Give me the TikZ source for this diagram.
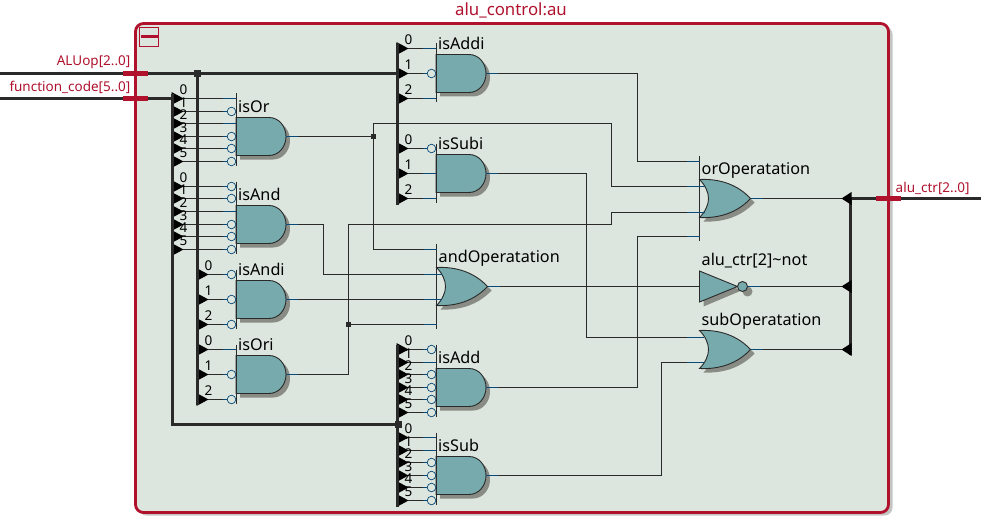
\documentclass[tikz,border=0pt]{standalone}
\usepackage{fontspec}
\setmainfont{Noto Sans}
\usetikzlibrary{calc,positioning}
\definecolor{panel}{HTML}{DDE6DE}
\definecolor{framered}{HTML}{B0122E}
\definecolor{framegray}{HTML}{C4C6C4}
\definecolor{gatefill}{HTML}{76AAAC}
\definecolor{gateshade}{HTML}{888C84}
\definecolor{pinblue}{HTML}{0A4A78}
\definecolor{ink}{HTML}{2A2A2A}
\tikzset{
  wire/.style={ink,line width=1pt},
  bus/.style={ink,line width=3pt},
  stub/.style={pinblue,line width=1pt},
  bubble/.style={pinblue,fill=panel,line width=.7pt},
  pinbar/.style={ink,line width=.9pt},
  gatebody/.style={draw=ink,fill=gatefill,line width=.9pt},
  gateshadow/.style={fill=gateshade,shift={(4,4)}},
  gatename/.style={anchor=west,inner sep=0pt,text=black,font=\fontsize{16.2}{18}\selectfont},
  bitnum/.style={inner sep=0pt,text=black,font=\fontsize{13.5}{15}\selectfont},
  redname/.style={inner sep=0pt,text=framered,font=\fontsize{13.5}{15}\selectfont},
  portbar/.style={framered,line width=5pt},
  tap/.style={fill=ink}
}
\newcommand{\andpath}{(0,-19) -- (33,-19) .. controls (43,-19) and (50,-10) .. (50,0) .. controls (50,10) and (43,19) .. (33,19) -- (0,19) -- cycle}
\newcommand{\orpath}{(0,-19) .. controls (20,-20) and (38,-14) .. (51,0) .. controls (38,14) and (20,20) .. (0,19) .. controls (6,13) and (9,6) .. (9,0) .. controls (9,-6) and (6,-13) .. (0,-19) -- cycle}
% name, x, centre y, text, top of pin bar
\newcommand{\andgate}[5]{\begin{scope}[shift={(#2,#3)}]
\fill[gateshadow] \andpath;
\draw[gatebody] \andpath;
\draw[pinbar] (0,#5) -- (0,29);
\draw[stub] (50,0) -- (62,0);
\coordinate (#1-out) at (62,0);
\node[gatename] (#1-name) at (2,-30) {#4};
\end{scope}}
% name, x, centre y, text
\newcommand{\orgate}[4]{\begin{scope}[shift={(#2,#3)}]
\fill[gateshadow] \orpath;
\draw[gatebody] \orpath;
\draw[stub] (51,0) -- (63,0);
\coordinate (#1-out) at (63,0);
\node[gatename] (#1-name) at (2,-28.5) {#4};
\end{scope}}
% gate, bus x, pin x, list of bit/y/inverted
\newcommand{\pinrow}[4]{\foreach \bit/\yy/\inv in {#4}{
\fill[black] (#2-1,\yy-6.5) -- (#2+11,\yy) -- (#2-1,\yy+6.5) -- cycle;
\coordinate (#1-t\bit) at (#2+10,\yy);
\coordinate (#1-i\bit) at (#3-13,\yy);
\draw[wire] (#1-t\bit) -- (#1-i\bit);
\ifnum\inv=1
\draw[stub] (#1-i\bit) -- ++(5,0);
\draw[bubble] (#3-4.5,\yy) circle (4.3pt);
\else
\draw[stub] (#1-i\bit) -- ++(13,0);
\fi
\node[bitnum] (#1-n\bit) at (#2+11,\yy-8.5) {\bit};
}}
% gate, pin x, list of input/y/length
\newcommand{\orpins}[3]{\foreach \pin/\yy/\len in {#3}{
\coordinate (#1-i\pin) at (#2-13,\yy);
\draw[stub] (#1-i\pin) -- ++(\len,0);
}}
\begin{document}
\begin{tikzpicture}[x=1pt,y=-1pt]
\useasboundingbox (0,0) rectangle (981,524);
\fill[white] (0,0) rectangle (981,524);
\begin{scope}[shift={(.5,.5)}]
% frame
\fill[framegray,rounded corners=8pt] (138,26) rectangle (892,515);
\draw[framered,fill=panel,line width=2.8pt,rounded corners=8pt] (135,23) rectangle (888,512);
\draw[framered,line width=.9pt] (139,27) rectangle (158,46);
\draw[framered,line width=3pt] (140,36) -- (157,36);
\node[redname,font=\fontsize{16.8}{18}\selectfont] (auname) at (510.5,10) {alu\_control:au};
% junction points
\coordinate (ALUin) at (-1,73);
\coordinate (ALUtap) at (197,73);
\coordinate (ALUend) at (397,73);
\coordinate (ALUlow) at (197,404);
\coordinate (FNin) at (-1,98);
\coordinate (FNtop) at (172,94);
\coordinate (FNleft) at (172,98);
\coordinate (FNdown) at (172,424);
\coordinate (FNtap) at (397,424);
\coordinate (orTap) at (373,136);
\coordinate (oriTap) at (348,324);
\coordinate (addiTop) at (397,43);
\coordinate (subiLow) at (397,204);
\coordinate (addTop) at (397,344);
\coordinate (subLow) at (397,506);
\coordinate (ctrTop) at (850,198);
\coordinate (ctrLow) at (850,354);
\coordinate (ctrOut) at (982,198);
% gates
\andgate{isOr}{235.5}{136}{isOr}{-43}
\andgate{isAnd}{235.5}{224}{isAnd}{-43}
\andgate{isAndi}{235.5}{299}{isAndi}{-30}
\andgate{isOri}{235.5}{374}{isOri}{-30}
\andgate{isAddi}{435.5}{73}{isAddi}{-30}
\andgate{isSubi}{435.5}{173}{isSubi}{-30}
\andgate{isAdd}{435.5}{387}{isAdd}{-43}
\andgate{isSub}{435.5}{475}{isSub}{-43}
\orgate{andOp}{436}{286}{andOperatation}
\orgate{orOp}{699}{198}{orOperatation}
\orgate{subOp}{699}{349}{subOperatation}
\draw[pinbar] (435.5,243) -- (435.5,328);
\draw[pinbar] (699,155) -- (699,240);
% inverter
\begin{scope}[shift={(699,286)}]
\fill[gateshade] (4,-12) -- (42,4) -- (4,20) -- cycle;
\fill[gateshade] (48,5) circle (5pt);
\draw[gatebody] (0,-15.5) -- (38,0) -- (0,15.5) -- cycle;
\draw[gatebody] (43,0) circle (5pt);
\draw[stub] (48,0) -- (60,0);
\coordinate (inv-in) at (0,0);
\coordinate (inv-out) at (60,0);
\node[gatename] (inv-name) at (2,-26) {alu\_ctr[2]\textasciitilde not};
\end{scope}
\orpins{orOp}{699}{0/161/13,1/186/18,2/212/18,3/236/13}
\orpins{andOp}{436}{0/249/13,1/274/18,2/299/18,3/324/13}
\orpins{subOp}{699}{0/337/17,1/362/17}
\draw[stub] (686,286) -- (inv-in);
% bit tails
\pinrow{isOr}{172}{235.5}{0/98/0,1/111/1,2/123/0,3/136/1,4/148/1,5/161/1}
\pinrow{isAnd}{172}{235.5}{0/186/1,1/198/1,2/211/0,3/224/1,4/236/1,5/249/1}
\pinrow{isAndi}{197}{235.5}{0/274/1,1/299/1,2/324/1}
\pinrow{isOri}{197}{235.5}{0/349/0,1/374/1,2/399/1}
\pinrow{isAddi}{397}{435.5}{0/48/0,1/73/1,2/98/0}
\pinrow{isSubi}{397}{435.5}{0/148/1,1/173/0,2/198/0}
\pinrow{isAdd}{397}{435.5}{0/349/1,1/362/0,2/374/1,3/387/1,4/399/1,5/412/1}
\pinrow{isSub}{397}{435.5}{0/437/0,1/450/0,2/462/1,3/475/1,4/487/1,5/500/1}
% wires between gates
\draw[wire] (isOr-out) -- (orTap);
\draw[wire] (orTap) |- (andOp-i0);
\draw[wire] (orTap) |- (611,123) |- (orOp-i1);
\draw[wire] (isAnd-out) -| (323,274) -- (andOp-i1);
\draw[wire] (isAndi-out) -- (andOp-i2);
\draw[wire] (oriTap) -- (andOp-i3);
\draw[wire] (isOri-out) -| (348,224) -- (611,224) |- (orOp-i2);
\draw[wire] (isAddi-out) -| (637,161) -- (orOp-i0);
\draw[wire] (isSubi-out) -| (586,337) -- (subOp-i0);
\draw[wire] (isAdd-out) -| (637,236) -- (orOp-i3);
\draw[wire] (isSub-out) -| (661,362) -- (subOp-i1);
\draw[wire] (andOp-out) -- (inv-in);
\draw[wire] (orOp-out) -- (ctrTop);
\draw[wire] (inv-out) -- (850,286);
\draw[wire] (subOp-out) -- (850,349);
\fill[tap] ($(orTap)+(-2.5,-2.5)$) rectangle ($(orTap)+(2.5,2.5)$);
\fill[tap] ($(oriTap)+(-2.5,-2.5)$) rectangle ($(oriTap)+(2.5,2.5)$);
% buses
\draw[bus] (ALUin) -- (ALUend);
\draw[bus] (ALUtap) -- (ALUlow);
\draw[bus] (FNin) -- (FNleft);
\draw[bus] (FNtop) -- (FNdown) -- (FNtap);
\draw[bus] (addiTop) -- (subiLow);
\draw[bus] (addTop) -- (subLow);
\draw[bus] (ctrTop) -- (ctrLow);
\draw[bus] (ctrTop) -- (ctrOut);
\fill[tap] ($(ALUtap)+(-3.5,-3.5)$) rectangle ($(ALUtap)+(3.5,3.5)$);
\fill[tap] ($(FNtap)+(-2.5,-3.5)$) rectangle ($(FNtap)+(4.5,3.5)$);
\foreach \yy in {198,286,349}{
\fill[black] (841,\yy) -- (851,\yy-6.5) -- (851,\yy+6.5) -- cycle;
}
% ports
\draw[portbar] (122,73) -- (147,73);
\draw[portbar] (122,98) -- (147,98);
\draw[portbar] (875,198) -- (900,198);
\node[redname,anchor=east] (ALUname) at (130,62) {ALUop[2..0]};
\node[redname,anchor=east] (FNname) at (130,87) {function\_code[5..0]};
\node[redname,anchor=west] (ctrname) at (895,188) {alu\_ctr[2..0]};
\end{scope}
\end{tikzpicture}
\end{document}
